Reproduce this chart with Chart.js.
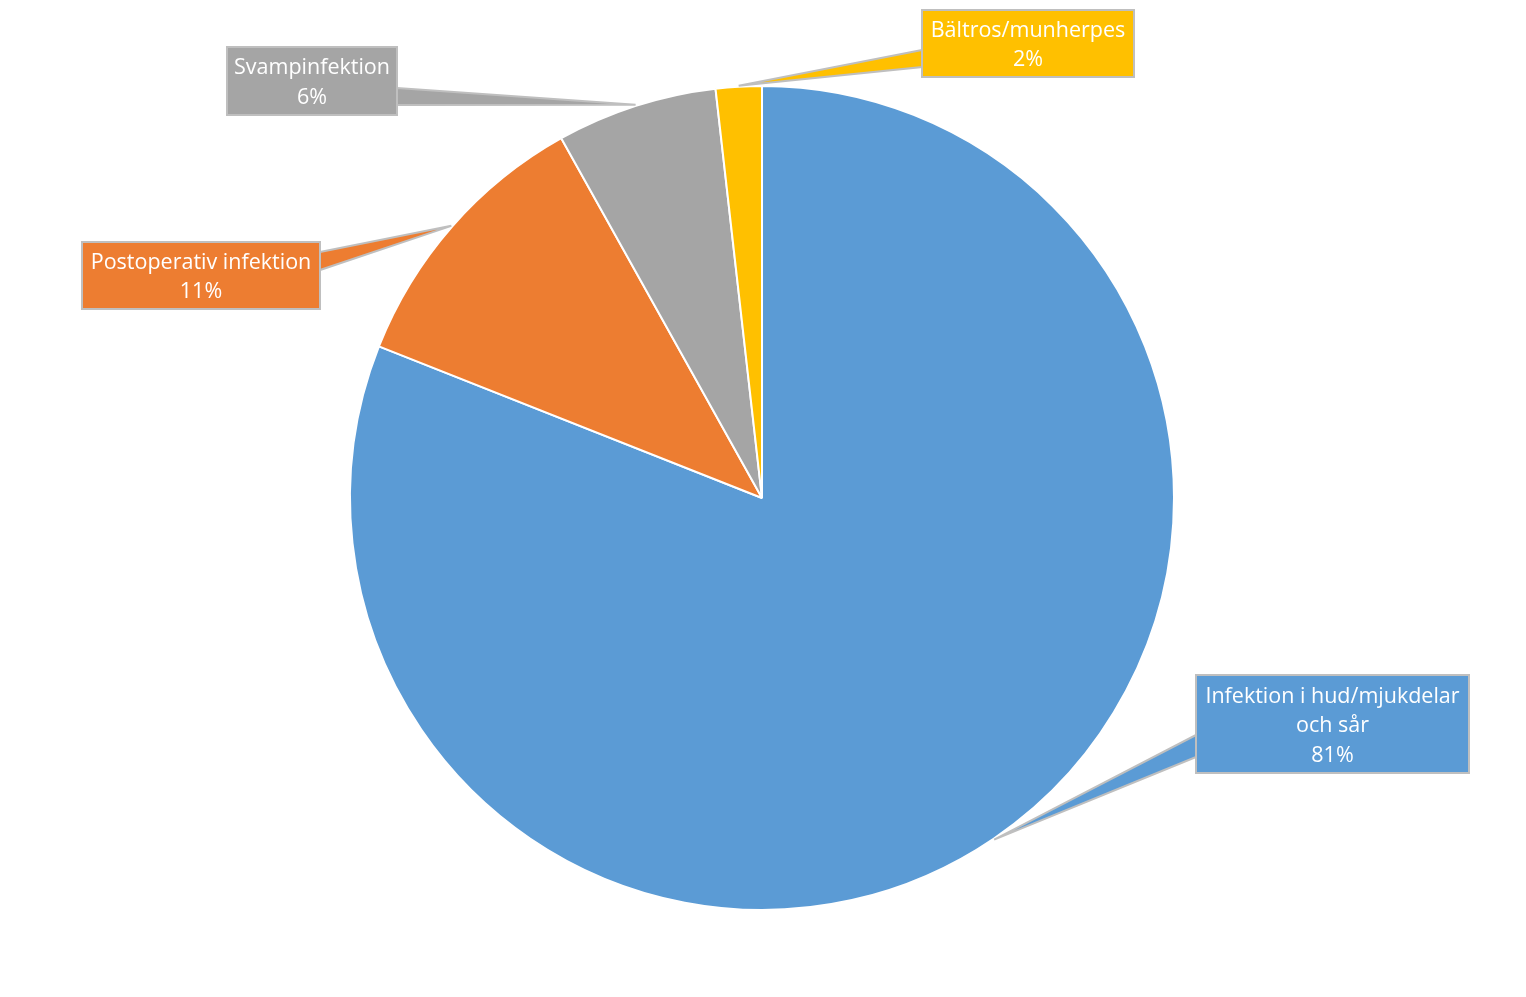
<!DOCTYPE html>
<html>
<head>
<meta charset="utf-8">
<script src="https://cdn.jsdelivr.net/npm/chart.js@4.4.1/dist/chart.umd.min.js"></script>
<style>
html,body{margin:0;padding:0;background:#fff;}
#wrap{width:1526px;height:997px;position:relative;}
</style>
</head>
<body>
<div id="wrap"><canvas id="c" width="1526" height="997"></canvas></div>
<script>
const categories = ["Infektion i hud/mjukdelar och sår", "Postoperativ infektion", "Svampinfektion", "Bältros/munherpes"];
const labelLines = [["Infektion i hud/mjukdelar", "och sår"], ["Postoperativ infektion"], ["Svampinfektion"], ["Bältros/munherpes"]];
const values = [81.0, 10.9, 6.3, 1.8];
const colors = ["#5B9BD5", "#ED7D31", "#A5A5A5", "#FFC000"];

// callout box layout
const boxes = [
  {x:1196, y:675, w:273, h:98, side:'left', b1:735, b2:757},
  {x:82, y:242, w:238, h:67, side:'right', b1:252, b2:270},
  {x:227, y:47, w:170, h:68, side:'right', b1:88, b2:105},
  {x:922, y:10, w:212, h:67, side:'left', b1:50, b2:67}
];

const calloutPlugin = {
  id: 'callouts',
  afterDraw(chart) {
    const ctx = chart.ctx;
    const meta = chart.getDatasetMeta(0);
    const total = values.reduce((a,b)=>a+b,0);
    meta.data.forEach((arc, i) => {
      const p = arc.getProps(['x','y','startAngle','endAngle','outerRadius'], true);
      const mid = (p.startAngle + p.endAngle) / 2;
      const tx = p.x + Math.cos(mid) * (p.outerRadius + 1);
      const ty = p.y + Math.sin(mid) * (p.outerRadius + 1);
      const b = boxes[i];
      const bx = b.side === 'left' ? b.x : b.x + b.w;
      ctx.save();
      ctx.beginPath();
      ctx.moveTo(bx, b.b1);
      ctx.lineTo(tx, ty);
      ctx.lineTo(bx, b.b2);
      ctx.closePath();
      ctx.fillStyle = colors[i];
      ctx.fill();
      ctx.lineWidth = 2;
      ctx.strokeStyle = '#BFBFBF';
      ctx.stroke();
      ctx.fillStyle = colors[i];
      ctx.fillRect(b.x, b.y, b.w, b.h);
      ctx.strokeRect(b.x, b.y, b.w, b.h);
      ctx.fillRect(b.x + 1, b.y + 1, b.w - 2, b.h - 2);
      const lines = labelLines[i].concat([Math.round(values[i] / total * 100) + '%']);
      ctx.fillStyle = '#FFFFFF';
      ctx.font = '21.5px "Open Sans", Lato, sans-serif';
      ctx.textAlign = 'center';
      ctx.textBaseline = 'middle';
      const lh = 29.5;
      const cy = b.y + b.h / 2 + 2;
      const startY = cy - (lines.length - 1) * lh / 2;
      lines.forEach((ln, k) => ctx.fillText(ln, b.x + b.w / 2, startY + k * lh));
      ctx.restore();
    });
  }
};

new Chart(document.getElementById('c'), {
  type: 'pie',
  data: {
    labels: categories,
    datasets: [{
      data: values,
      backgroundColor: colors,
      borderColor: '#FFFFFF',
      borderWidth: 2
    }]
  },
  options: {
    responsive: false,
    animation: false,
    layout: { padding: { left: 349, right: 351, top: 85, bottom: 86 } },
    plugins: { legend: { display: false }, tooltip: { enabled: false } }
  },
  plugins: [calloutPlugin]
});
</script>
</body>
</html>
